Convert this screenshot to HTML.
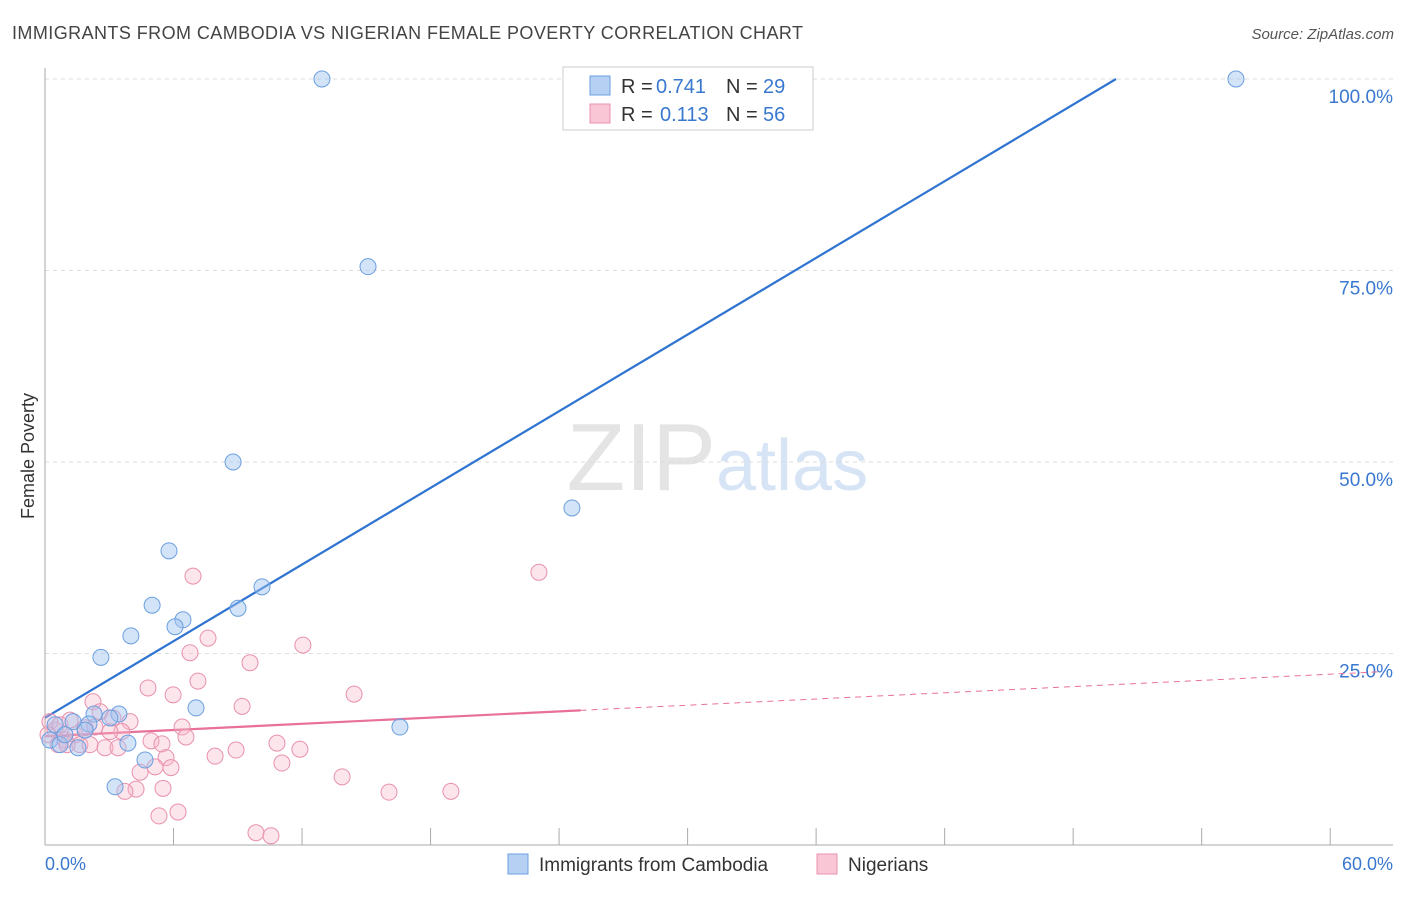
<!DOCTYPE html>
<html><head><meta charset="utf-8"><style>
body{margin:0;background:#fff;font-family:"Liberation Sans",sans-serif;}
svg text{font-family:"Liberation Sans",sans-serif;}
</style></head><body>
<svg id="chart" width="1406" height="892" xmlns="http://www.w3.org/2000/svg">
<text x="12" y="39" font-size="18" fill="#444" textLength="791" lengthAdjust="spacing">IMMIGRANTS FROM CAMBODIA VS NIGERIAN FEMALE POVERTY CORRELATION CHART</text>
<text x="1394" y="39" font-size="15" fill="#555" text-anchor="end" font-style="italic">Source: ZipAtlas.com</text>
<text x="716" y="490" font-size="96" fill="#e4e4e4" text-anchor="end" font-family="Liberation Serif">ZIP</text>
<text x="716" y="490" font-size="72" fill="#d6e4f6">atlas</text>
<text transform="translate(34,456) rotate(-90)" font-size="18" fill="#333" text-anchor="middle">Female Poverty</text>
<g id="grid"></g><g id="axes"></g><g id="lines"></g><g id="points"></g>
<g>
<rect x="563" y="67" width="250" height="63" fill="#fff" stroke="#ccc"/>
<rect x="590" y="76" width="20" height="19" fill="#b6d0f4" stroke="#6a9fe0"/>
<rect x="590" y="104" width="20" height="19" fill="#f9c6d6" stroke="#e891ad"/>
<text x="621" y="93" font-size="20" fill="#333">R =</text>
<text x="656" y="93" font-size="20" fill="#3a78d0">0.741</text>
<text x="726" y="93" font-size="20" fill="#333">N =</text>
<text x="763" y="93" font-size="20" fill="#3a78d0">29</text>
<text x="621" y="121" font-size="20" fill="#333">R =</text>
<text x="660" y="121" font-size="20" fill="#3a78d0">0.113</text>
<text x="726" y="121" font-size="20" fill="#333">N =</text>
<text x="763" y="121" font-size="20" fill="#3a78d0">56</text>
</g>
<g>
<rect x="508" y="854" width="20" height="20" fill="#b6d0f4" stroke="#6a9fe0"/>
<text x="539" y="871" font-size="19" fill="#333">Immigrants from Cambodia</text>
<rect x="817" y="854" width="20" height="20" fill="#f9c6d6" stroke="#e891ad"/>
<text x="848" y="871" font-size="19" fill="#333">Nigerians</text>
</g>
</svg>
<script>
const yTicks=[25,50,75,100];
const xTickLabels=["0.0%","60.0%"];
const cambX=[12.93,15.08,8.78,24.6,5.79,5.0,6.44,6.07,9.01,10.13,4.01,2.61,7.05,3.45,2.29,16.57,1.31,2.05,3.87,4.67,3.27,55.6,0.23,0.7,1.54,0.47,0.93,3.03,1.87];
const cambY=[100,75.5,50.0,44.0,38.4,31.3,29.4,28.5,30.9,33.7,27.3,24.5,17.9,17.1,17.1,15.4,16.1,15.8,13.3,11.1,7.6,100,13.7,13.1,12.7,15.7,14.4,16.6,15.0];
const nigX=[6.91,23.06,7.61,12.04,6.77,9.57,7.14,4.81,5.98,14.43,2.24,9.2,2.57,3.97,6.4,6.58,3.59,4.95,5.46,10.83,11.9,8.92,7.94,5.65,11.06,5.14,5.88,4.44,13.87,5.51,4.25,3.73,16.06,18.95,6.21,5.32,9.85,10.55,0.23,0.47,0.7,0.93,1.4,1.63,1.87,2.8,3.41,2.1,3.03,1.17,0.14,0.61,2.33,3.17,1.03];
const nigY=[35.1,35.6,27.0,26.1,25.1,23.8,21.4,20.5,19.6,19.7,18.7,18.1,17.4,16.1,15.4,14.1,14.8,13.6,13.2,13.3,12.5,12.4,11.6,11.4,10.7,10.2,10.1,9.5,8.9,7.4,7.3,7.0,6.9,7.0,4.3,3.8,1.6,1.2,16.1,15.0,15.7,13.7,14.4,13.1,15.3,12.7,12.7,13.1,14.8,16.3,14.4,13.1,15.4,16.6,13.1];
const cambTrend=[16.6,1.668];
const nigTrend=[14.2,0.135];
const X=v=>45+v*21.42, Y=v=>845-v*7.66;
const NS="http://www.w3.org/2000/svg";
function mk(tag,attrs,parent){const e=document.createElementNS(NS,tag);for(const k in attrs)e.setAttribute(k,attrs[k]);document.getElementById(parent).appendChild(e);return e;}
yTicks.forEach(t=>{
 const l=mk('line',{x1:45,x2:1393,y1:Y(t),y2:Y(t),stroke:'#ddd','stroke-dasharray':'4,4'},'grid');
 
 
 const tx=mk('text',{x:1393,y:Y(t)+24,'font-size':19,fill:'#3a78d0','text-anchor':'end'},'grid');
 tx.textContent=t.toFixed(1)+'%';
 
 
});
const ax=mk('line',{x1:45,x2:45,y1:68,y2:845,stroke:'#aaa'},'axes');


const bx=mk('line',{x1:45,x2:1393,y1:845,y2:845,stroke:'#aaa'},'axes');


for(let i=0;i<=10;i++){const t=mk('line',{x1:X(i*6),x2:X(i*6),y1:828,y2:845,stroke:'#aaa'},'axes');
 
 }
xTickLabels.forEach((s,i)=>{const t=mk('text',{x:i?1393:45,y:870,'font-size':18,fill:'#3a78d0','text-anchor':i?'end':'start'},'axes');t.textContent=s;
 
 });
const xEnd=(100-cambTrend[0])/cambTrend[1];
const bl=mk('line',{x1:X(0),y1:Y(cambTrend[0]),x2:X(xEnd),y2:Y(100),stroke:'#2f74d0','stroke-width':2.2},'lines');


const pl=mk('line',{x1:X(0),y1:Y(nigTrend[0]),x2:X(25),y2:Y(nigTrend[0]+25*nigTrend[1]),stroke:'#e8709a','stroke-width':2.2},'lines');


const pd=mk('line',{x1:X(25),y1:Y(nigTrend[0]+25*nigTrend[1]),x2:X(62.3),y2:Y(nigTrend[0]+62.3*nigTrend[1]),stroke:'#e8709a','stroke-width':1,'stroke-dasharray':'6,5'},'lines');


nigX.forEach((v,i)=>{const c=mk('circle',{cx:X(v),cy:Y(nigY[i]),r:8,fill:'rgba(248,180,200,0.35)',stroke:'#e891ad','stroke-width':1},'points');
 
 });
cambX.forEach((v,i)=>{const c=mk('circle',{cx:X(v),cy:Y(cambY[i]),r:8,fill:'rgba(160,196,240,0.45)',stroke:'#6a9fe0','stroke-width':1},'points');
 
 });
</script>
</body></html>
